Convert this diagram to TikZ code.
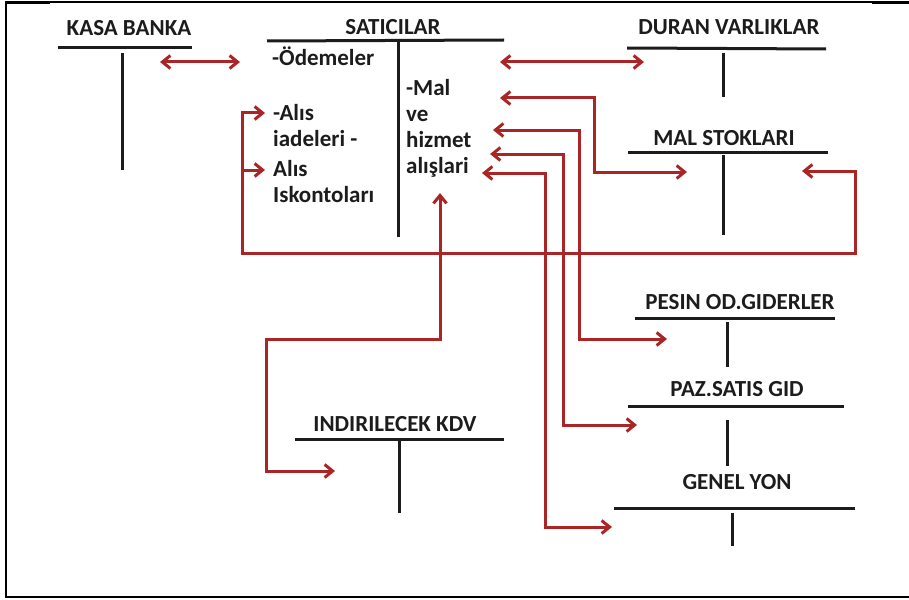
\documentclass[tikz,border=0pt]{standalone}
\usepackage{fontspec}
\setmainfont{Carlito}
\usetikzlibrary{arrows.meta}
\definecolor{flow}{RGB}{170,38,38}
\definecolor{ink}{RGB}{28,28,28}
\begin{document}
\begin{tikzpicture}[x=1pt,y=-1pt,
  title/.style={font=\bfseries\fontsize{23}{27}\selectfont, text=ink, inner sep=0pt},
  entry/.style={font=\bfseries\fontsize{23}{26}\selectfont, text=ink, inner sep=0pt, align=left},
  rule/.style={draw=ink, line width=3pt},
  frame/.style={draw=black, line width=2.4pt},
  tip/.tip={Straight Barb[length=8pt,width=13pt]},
  link/.style={draw=flow, line width=3pt, tip-tip},
  feed/.style={draw=flow, line width=3pt, -tip},
]
\useasboundingbox (0,0) rectangle (909,599);

% outer frame
\draw[frame] (6,2) -- (6,597) -- (909,597);
\draw[draw=black, line width=1.2pt] (5,2) -- (909,2);
\draw[draw=black, line width=3pt] (5,3) -- (50,3);
\draw[draw=black, line width=3pt] (872,3) -- (909,3);

% account titles
\node[title] (kasa)  at (129,28)  {KASA BANKA};
\node[title] (sat)   at (393,27)  {SATICILAR};
\node[title] (duran) at (729,27)  {DURAN VARLIKLAR};
\node[title] (stok)  at (724,138) {MAL STOKLARI};
\node[title] (pesin) at (740,302) {PESIN OD.GIDERLER};
\node[title] (paz)   at (737,389) {PAZ.SATIS GID};
\node[title] (genel) at (737,482) {GENEL YON};
\node[title] (kdv)   at (395,424) {INDIRILECEK KDV};

% T-account rules
\draw[rule] (58,47.5) -- (192,47.5);   \draw[rule] (122,53) -- (122,170);
\draw[rule] (267,41) -- (504,40);      \draw[rule] (398,42) -- (398,237);
\draw[rule] (627,48) -- (826,49);      \draw[rule] (723,53) -- (723,97);
\draw[rule] (628,152) -- (828,152);    \draw[rule] (723,155) -- (723,235);
\draw[rule] (635,318) -- (835,318);    \draw[rule] (727,322) -- (727,367);
\draw[rule] (628,406) -- (844,406);    \draw[rule] (727,420) -- (727,466);
\draw[rule] (614,508) -- (855,508);    \draw[rule] (732,513) -- (732,546);
\draw[rule] (295,439) -- (504,439);    \draw[rule] (399,439) -- (399,513);

% entries on the SATICILAR account
\node[entry, anchor=base west] (odeme) at (272,66) {-Ödemeler};
\node[entry, anchor=north west] (iade) at (273,104)
  {-Alıs\\iadeleri -\\[4pt]Alıs\\Iskontoları};
\node[entry, anchor=north west] (malh) at (406,79)
  {-Mal\\ve\\hizmet\\alışlari};

% connector end points
\coordinate (kasaR)  at (160,62);
\coordinate (satL)   at (240,62);
\coordinate (satR)   at (500,62);
\coordinate (duranL) at (644,62);
\coordinate (malA)   at (500,98);
\coordinate (stokL)  at (687,172);
\coordinate (stokR)  at (802,171);
\coordinate (hizA)   at (493,130);
\coordinate (hizB)   at (490,154);
\coordinate (hizC)   at (482,173);
\coordinate (pesinL) at (667,339);
\coordinate (pazL)   at (637,425);
\coordinate (genelL) at (612,527);
\coordinate (malUp)  at (440,193);
\coordinate (kdvL)   at (335,471);
\coordinate (iadeA)  at (265,113);
\coordinate (iadeB)  at (265,170);

% flows
\draw[link] (kasaR) -- (satL);
\draw[link] (satR) -- (duranL);
\draw[link] (malA) -- (594,98) |- (stokL);
\draw[link] (iadeA) -- (242,113) -- (242,253) -- (855,253) |- (stokR);
\draw[feed] (242,170) -- (iadeB);
\draw[link] (hizA) -- (579,130) |- (pesinL);
\draw[link] (hizB) -- (563,154) |- (pazL);
\draw[link] (hizC) -- (545,173) |- (genelL);
\draw[link] (malUp) -- (440,339) -- (266,339) |- (kdvL);
\end{tikzpicture}
\end{document}
